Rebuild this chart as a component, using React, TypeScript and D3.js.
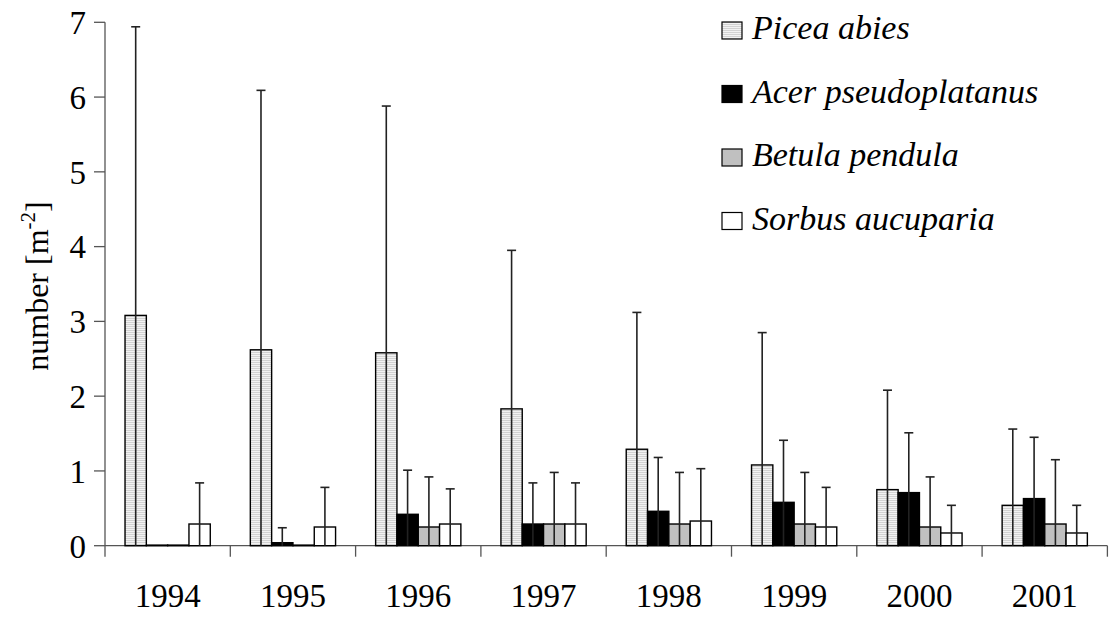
import React, { useEffect, useRef } from "react";
import * as d3 from "d3";

// data (means and mean + sd)
const years = ["1994", "1995", "1996", "1997", "1998", "1999", "2000", "2001"];
const species = ["Picea abies", "Acer pseudoplatanus", "Betula pendula", "Sorbus aucuparia"];

const piceaMean = [3.08, 2.62, 2.58, 1.83, 1.29, 1.08, 0.75, 0.54];
const piceaTop = [6.94, 6.09, 5.88, 3.95, 3.12, 2.85, 2.08, 1.56];
const acerMean = [0, 0.04, 0.42, 0.29, 0.46, 0.58, 0.71, 0.63];
const acerTop = [0, 0.24, 1.01, 0.84, 1.18, 1.41, 1.51, 1.45];
const betulaMean = [0, 0, 0.25, 0.29, 0.29, 0.29, 0.25, 0.29];
const betulaTop = [0, 0, 0.92, 0.98, 0.98, 0.98, 0.92, 1.15];
const sorbusMean = [0.29, 0.25, 0.29, 0.29, 0.33, 0.25, 0.17, 0.17];
const sorbusTop = [0.84, 0.78, 0.76, 0.84, 1.03, 0.78, 0.54, 0.54];

const yTicks = [0, 1, 2, 3, 4, 5, 6, 7];

const means = [piceaMean, acerMean, betulaMean, sorbusMean];
const tops = [piceaTop, acerTop, betulaTop, sorbusTop];
const fills = ["url(#stripes)", "#000000", "#c0c0c0", "#ffffff"];

export default function App() {
  const svgRef = useRef(null);

  useEffect(() => {
    const font = "Liberation Serif, DejaVu Serif, Times New Roman, serif";

    const svg = d3.select(svgRef.current).style("font-family", font);
    svg.selectAll("*").remove();

    // striped fill of Picea
    const pat = svg
      .append("defs")
      .append("pattern")
      .attr("id", "stripes")
      .attr("patternUnits", "userSpaceOnUse")
      .attr("width", 4)
      .attr("height", 2);
    pat.append("rect").attr("width", 4).attr("height", 2).attr("fill", "#f2f2f2");
    pat.append("rect").attr("width", 4).attr("height", 1).attr("fill", "#d2d2d2");

    const x0 = d3.scaleBand().domain(years).range([105, 1107.4]).padding(0);
    const x1 = d3
      .scaleBand()
      .domain(species)
      .range([0, x0.bandwidth()])
      .paddingInner(0)
      .paddingOuter(0.94);
    const y = d3.scaleLinear().domain([0, 7]).range([545.7, 22.3]);

    const rows = [];
    species.forEach((s, i) => {
      years.forEach((yr, j) => {
        rows.push({ s, i, yr, mean: means[i][j], top: tops[i][j] });
      });
    });

    // axes
    const axisColor = "#555";
    const gy = svg.append("g");
    gy.append("line")
      .attr("x1", 105)
      .attr("x2", 105)
      .attr("y1", y(7))
      .attr("y2", y(0))
      .attr("stroke", axisColor)
      .attr("stroke-width", 1.3);
    gy.selectAll(".tk")
      .data(yTicks)
      .join("line")
      .attr("x1", 94)
      .attr("x2", 105)
      .attr("y1", (d) => y(d))
      .attr("y2", (d) => y(d))
      .attr("stroke", axisColor)
      .attr("stroke-width", 1.3);
    gy.selectAll("text")
      .data(yTicks)
      .join("text")
      .attr("x", 86)
      .attr("y", (d) => y(d))
      .attr("dy", "0.36em")
      .attr("text-anchor", "end")
      .style("font-family", font)
      .attr("font-size", 33)
      .text((d) => d);

    const gx = svg.append("g");
    gx.append("line")
      .attr("x1", x0.range()[0])
      .attr("x2", x0.range()[1])
      .attr("y1", y(0))
      .attr("y2", y(0))
      .attr("stroke", axisColor)
      .attr("stroke-width", 1.3);
    const bounds = years.map((d) => x0(d)).concat([x0.range()[1]]);
    gx.selectAll(".tk")
      .data(bounds)
      .join("line")
      .attr("x1", (d) => d)
      .attr("x2", (d) => d)
      .attr("y1", y(0))
      .attr("y2", y(0) + 11)
      .attr("stroke", axisColor)
      .attr("stroke-width", 1.3);
    gx.selectAll("text")
      .data(years)
      .join("text")
      .attr("x", (d) => x0(d) + x0.bandwidth() / 2)
      .attr("y", 607)
      .attr("text-anchor", "middle")
      .style("font-family", font)
      .attr("font-size", 33)
      .text((d) => d);

    // y title
    const yt = svg
      .append("text")
      .attr("transform", `translate(48,${(y(0) + y(7)) / 2 + 2}) rotate(-90)`)
      .attr("text-anchor", "middle")
      .style("font-family", font)
      .attr("font-size", 32);
    yt.append("tspan").text("number [m");
    yt.append("tspan").attr("font-size", 21).attr("dy", -13).text("-2");
    yt.append("tspan").attr("dy", 13).text("]");

    // bars (zero values still show as a flat outline)
    svg
      .append("g")
      .selectAll("rect")
      .data(rows)
      .join("rect")
      .attr("x", (d) => x0(d.yr) + x1(d.s))
      .attr("y", (d) => Math.min(y(d.mean), y(0) - 0.6))
      .attr("width", x1.bandwidth())
      .attr("height", (d) => Math.max(y(0) - y(d.mean), 0.6))
      .attr("fill", (d) => fills[d.i])
      .attr("stroke", "#000")
      .attr("stroke-width", 1.4);

    // error bars (upper only, line from base)
    const eb = rows.filter((d) => d.top > d.mean);
    const cx = (d) => x0(d.yr) + x1(d.s) + x1.bandwidth() / 2;
    const ge = svg.append("g").attr("stroke", "#222").attr("stroke-width", 1.6);
    ge.selectAll(".v")
      .data(eb)
      .join("line")
      .attr("x1", cx)
      .attr("x2", cx)
      .attr("y1", y(0))
      .attr("y2", (d) => y(d.top));
    ge.selectAll(".h")
      .data(eb)
      .join("line")
      .attr("x1", (d) => cx(d) - 4.5)
      .attr("x2", (d) => cx(d) + 4.5)
      .attr("y1", (d) => y(d.top))
      .attr("y2", (d) => y(d.top));

    // legend
    const lg = svg
      .append("g")
      .selectAll("g")
      .data(species)
      .join("g")
      .attr("transform", (d, i) => `translate(722,${22 + i * 63.5})`);
    lg.append("rect")
      .attr("width", 20)
      .attr("height", 17)
      .attr("fill", (d, i) => fills[i])
      .attr("stroke", "#000")
      .attr("stroke-width", 1.2);
    lg.append("text")
      .attr("x", 30)
      .attr("y", 17)
      .style("font-family", font)
      .attr("font-style", "italic")
      .attr("font-size", 34)
      .text((d) => d);
  }, []);

  return (
    <svg
      ref={svgRef}
      width={1110}
      height={617}
      style={{ position: "absolute", left: 0, top: 0, background: "#fff" }}
    />
  );
}
